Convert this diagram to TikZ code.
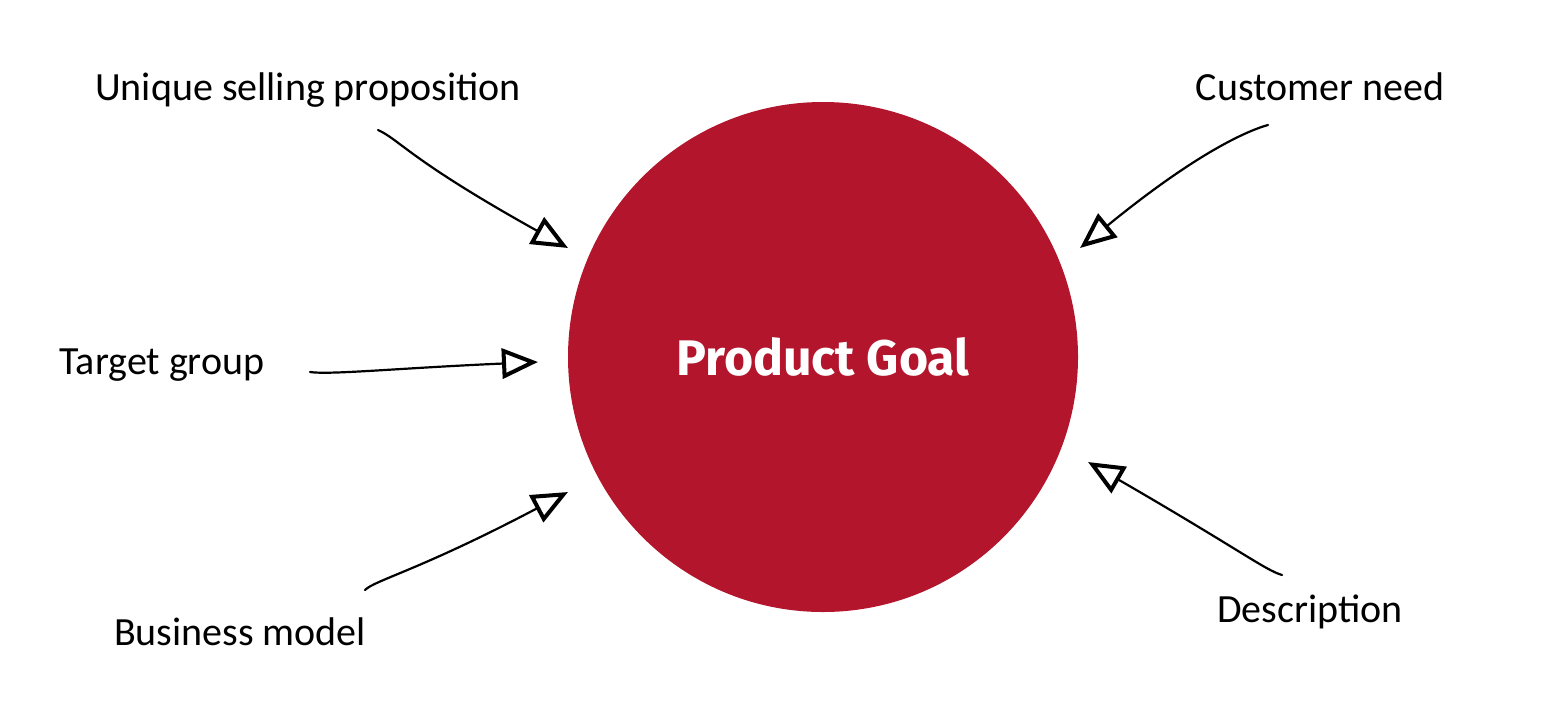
\documentclass[tikz,border=0pt]{standalone}
\usepackage{fontspec}
\setmainfont{Carlito}
\newfontfamily\goalfont{Fira Sans}
\usetikzlibrary{arrows.meta}
\definecolor{goalred}{HTML}{B3152D}
\begin{document}
\begin{tikzpicture}[x=1pt,y=-1pt,
  lbl/.style={font=\fontsize{40}{44}\selectfont, inner sep=0pt},
  sk/.style={line width=2.2pt, line cap=round, -{Triangle[open,length=36pt,width=30pt,line width=4pt]}}]
\useasboundingbox (0,0) rectangle (1546,715);
\node[circle, fill=goalred, minimum size=510pt, inner sep=0pt] (g) at (823,357) {};
\node[text=white, font=\goalfont\bfseries\fontsize{50}{54}\selectfont] (gt) at (823,357) {Product Goal};
\node[lbl] (usp) at (308,90) {Unique selling proposition};
\node[lbl] (cn) at (1320,87) {Customer need};
\node[lbl] (tg) at (162,365) {Target group};
\node[lbl] (bm) at (240,632) {Business model};
\node[lbl] (ds) at (1310,612) {Description};
\coordinate (a1) at (378,130); \coordinate (b1) at (568,248);
\coordinate (a2) at (1268,125); \coordinate (b2) at (1080,248);
\coordinate (a3) at (310,372); \coordinate (b3) at (538,362);
\coordinate (a4) at (365,590); \coordinate (b4) at (568,492);
\coordinate (a5) at (1282,575); \coordinate (b5) at (1088,462);
\draw[sk] (a1) .. controls (400,140) and (410,160) .. (b1);
\draw[sk] (a2) .. controls (1250,130) and (1200,150) .. (b2);
\draw[sk] (a3) .. controls (330,375) and (400,368) .. (b3);
\draw[sk] (a4) .. controls (375,580) and (420,570) .. (b4);
\draw[sk] (a5) .. controls (1265,570) and (1240,550) .. (b5);
\end{tikzpicture}
\end{document}
